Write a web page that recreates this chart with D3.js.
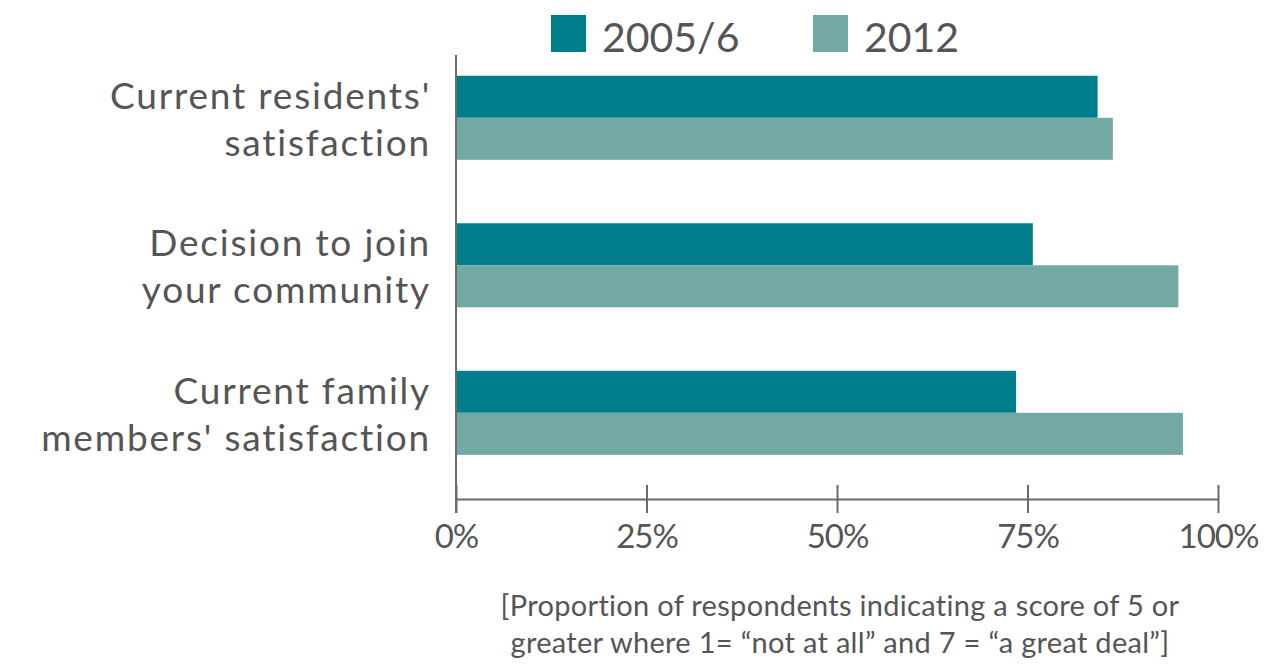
<!DOCTYPE html>
<html>
<head>
<meta charset="utf-8">
<script src="https://cdn.jsdelivr.net/npm/d3@7"></script>
<style>
  html, body { margin: 0; padding: 0; background: #fff; }
  svg { display: block; font-family: Lato, 'Open Sans', sans-serif; }
</style>
</head>
<body>
<div id="chart"></div>
<script>

// ---------------------------------------------------------------------------
// Data //////////////////////////////////////////////////////////////////////
// ---------------------------------------------------------------------------

const categories = [
  ["Current residents'", "satisfaction"],
  ["Decision to join", "your community"],
  ["Current family", "members' satisfaction"]
];
const series = ['2005/6', '2012'];
const values_2005 = [84.2, 75.7, 73.5];
const values_2012 = [86.2, 94.8, 95.4];
const tick_values = [0, 25, 50, 75, 100];
const footnote = [
  '[Proportion of respondents indicating a score of 5 or',
  'greater where 1= \u201cnot at all\u201d and 7 = \u201ca great deal\u201d]'
];

// ---------------------------------------------------------------------------
// SVG setup /////////////////////////////////////////////////////////////////
// ---------------------------------------------------------------------------

const width = 1277;
const height = 666;

const svg = d3.select('#chart').append('svg')
  .attr('viewBox', [0, 0, width, height])
  .attr('width', width)
  .attr('height', height);

const textColor = '#555';
const axisColor = '#6b6b6b';
const colors = d3.scaleOrdinal().domain(series).range(['#007e8c', '#72a9a4']);

const rows = categories.map((c, i) => ({
  key: c.join(' '),
  lines: c,
  vals: [values_2005[i], values_2012[i]]
}));

// ---------------------------------------------------------------------------
// Scales ////////////////////////////////////////////////////////////////////
// ---------------------------------------------------------------------------

const x = d3.scaleLinear().domain([0, 100]).range([456, 1218]);

const y = d3.scaleBand()
  .domain(rows.map(d => d.key))
  .range([61, 469.6])
  .paddingInner(0.43)
  .paddingOuter(0.1);

const ySub = d3.scaleBand().domain(series).range([0, y.bandwidth()]);

// ---------------------------------------------------------------------------
// Bars //////////////////////////////////////////////////////////////////////
// ---------------------------------------------------------------------------

const groups = svg.append('g').attr('id', 'bars')
  .selectAll('g')
  .data(rows)
  .join('g')
  .attr('transform', d => `translate(0,${y(d.key)})`);

groups.selectAll('rect')
  .data(d => d.vals.map((v, i) => ({ s: series[i], v })))
  .join('rect')
  .attr('x', x(0))
  .attr('y', d => ySub(d.s))
  .attr('width', d => x(d.v) - x(0))
  .attr('height', ySub.bandwidth())
  .attr('fill', d => colors(d.s));

// Category labels
groups.append('text')
  .attr('text-anchor', 'end')
  .attr('fill', textColor)
  .attr('font-size', 37)
  .attr('letter-spacing', 1.8)
  .selectAll('tspan')
  .data(d => d.lines)
  .join('tspan')
  .attr('x', 431)
  .attr('y', (d, i) => y.bandwidth() / 2 - 9 + i * 47)
  .text(d => d);

// ---------------------------------------------------------------------------
// Axes //////////////////////////////////////////////////////////////////////
// ---------------------------------------------------------------------------

const axisY = 499;

const xAxis = svg.append('g')
  .attr('transform', `translate(0,${axisY})`)
  .call(d3.axisBottom(x).tickValues(tick_values).tickFormat(d => d + '%').tickSize(14).tickSizeOuter(0));

xAxis.select('.domain').attr('stroke', axisColor).attr('stroke-width', 2);
xAxis.selectAll('.tick line')
  .attr('y1', -14).attr('y2', 14)
  .attr('stroke', axisColor).attr('stroke-width', 2);
xAxis.selectAll('.tick text')
  .attr('y', 49)
  .attr('dy', 0)
  .attr('fill', textColor)
  .attr('font-size', 33)
  .attr('font-family', 'Lato, sans-serif')
  .attr('letter-spacing', -1);

svg.append('line')
  .attr('x1', x(0)).attr('x2', x(0))
  .attr('y1', 55).attr('y2', axisY + 14)
  .attr('stroke', axisColor)
  .attr('stroke-width', 2);

// ---------------------------------------------------------------------------
// Legend ////////////////////////////////////////////////////////////////////
// ---------------------------------------------------------------------------

const legendX = [551, 813];

const legend = svg.append('g').attr('id', 'legend')
  .selectAll('g')
  .data(series)
  .join('g')
  .attr('transform', (d, i) => `translate(${legendX[i]},15)`);

legend.append('rect')
  .attr('width', 35)
  .attr('height', 37)
  .attr('fill', d => colors(d));

legend.append('text')
  .attr('x', 51)
  .attr('y', 37)
  .attr('fill', textColor)
  .attr('font-size', 41)
  .text(d => d);

// ---------------------------------------------------------------------------
// Footnote //////////////////////////////////////////////////////////////////
// ---------------------------------------------------------------------------

svg.append('text')
  .attr('text-anchor', 'middle')
  .attr('fill', textColor)
  .attr('font-size', 29)
  .attr('letter-spacing', 0.3)
  .selectAll('tspan')
  .data(footnote)
  .join('tspan')
  .attr('x', 840)
  .attr('y', (d, i) => 616 + i * 37)
  .text(d => d);

</script>
</body>
</html>
